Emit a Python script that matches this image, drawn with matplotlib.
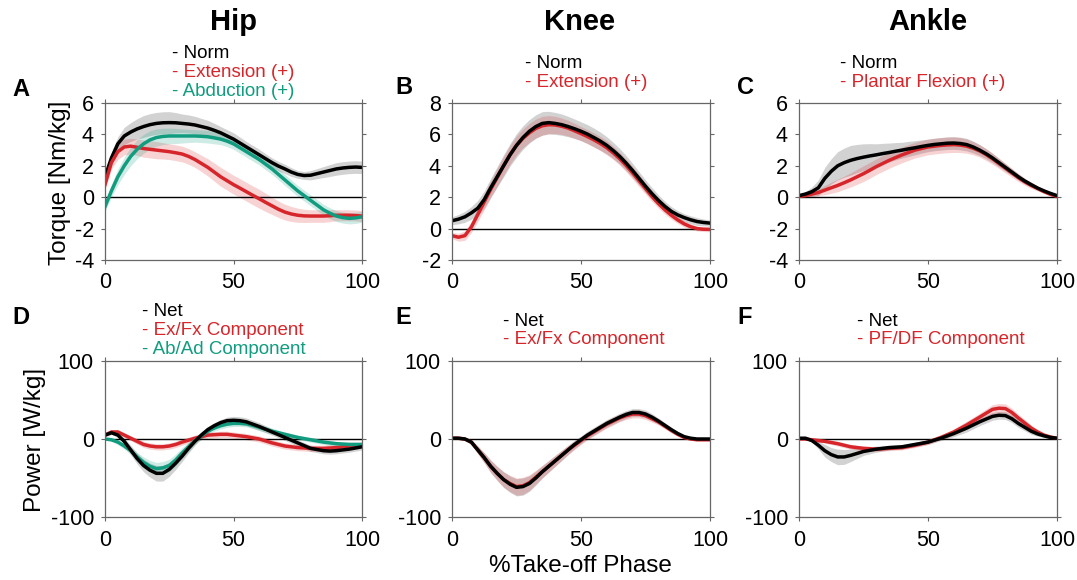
import numpy as np
import matplotlib.pyplot as plt

plt.rcParams['font.family'] = ['Liberation Sans', 'DejaVu Sans']

# % take-off phase, read every 2.5 %
pct = np.arange(0, 100.1, 2.5)

# A - hip torque [Nm/kg]
hip_t_norm = [1.3, 2.5, 3.4, 3.9, 4.15, 4.35, 4.5, 4.62, 4.7, 4.74, 4.75, 4.74, 4.7, 4.66, 4.6, 4.5, 4.4,
              4.26, 4.1, 3.9, 3.7, 3.45, 3.2, 2.95, 2.7, 2.45, 2.2, 1.98, 1.8, 1.6, 1.45, 1.38, 1.4,
              1.5, 1.6, 1.7, 1.8, 1.86, 1.9, 1.92, 1.9]
hip_t_norm_sd = [0.3, 0.35, 0.45, 0.55, 0.6, 0.65, 0.7, 0.7, 0.7, 0.7, 0.7, 0.65, 0.6, 0.58, 0.55, 0.52, 0.5,
                 0.45, 0.4, 0.4, 0.4, 0.38, 0.35, 0.35, 0.35, 0.32, 0.3, 0.3, 0.3, 0.28, 0.25, 0.25, 0.3,
                 0.32, 0.35, 0.38, 0.4, 0.4, 0.4, 0.4, 0.4]
hip_t_ext = [0.8, 2.2, 2.9, 3.2, 3.25, 3.18, 3.1, 3.05, 3.0, 2.95, 2.9, 2.83, 2.75, 2.6, 2.4, 2.15, 1.9,
             1.6, 1.3, 1.05, 0.8, 0.58, 0.35, 0.12, -0.1, -0.33, -0.55, -0.77, -0.95, -1.07, -1.15, -1.19, -1.2,
             -1.2, -1.2, -1.18, -1.15, -1.15, -1.15, -1.17, -1.2]
hip_t_ext_sd = [0.3, 0.4, 0.5, 0.5, 0.5, 0.52, 0.55, 0.55, 0.55, 0.52, 0.5, 0.5, 0.5, 0.5, 0.5, 0.52, 0.55,
                0.58, 0.6, 0.6, 0.6, 0.6, 0.6, 0.6, 0.6, 0.58, 0.55, 0.52, 0.5, 0.48, 0.45, 0.42, 0.4,
                0.4, 0.4, 0.38, 0.35, 0.35, 0.35, 0.35, 0.35]
hip_t_abd = [-0.6, 0.4, 1.3, 2.0, 2.6, 3.05, 3.4, 3.65, 3.8, 3.87, 3.9, 3.9, 3.9, 3.9, 3.9, 3.88, 3.85,
             3.78, 3.7, 3.57, 3.4, 3.15, 2.9, 2.65, 2.4, 2.1, 1.8, 1.45, 1.1, 0.75, 0.4, 0.1, -0.2,
             -0.5, -0.8, -1.02, -1.2, -1.3, -1.35, -1.32, -1.25]
hip_t_abd_sd = [0.3, 0.4, 0.5, 0.55, 0.6, 0.6, 0.6, 0.58, 0.55, 0.52, 0.5, 0.48, 0.45, 0.42, 0.4, 0.4, 0.4,
                0.38, 0.35, 0.35, 0.35, 0.35, 0.35, 0.35, 0.35, 0.35, 0.35, 0.35, 0.35, 0.35, 0.35, 0.35, 0.35,
                0.35, 0.35, 0.35, 0.35, 0.35, 0.35, 0.35, 0.35]

# B - knee torque [Nm/kg]
knee_t_norm = [0.5, 0.6, 0.75, 1.0, 1.3, 1.85, 2.6, 3.3, 4.0, 4.7, 5.3, 5.8, 6.2, 6.5, 6.7, 6.75, 6.7,
               6.62, 6.5, 6.36, 6.2, 6.02, 5.8, 5.57, 5.3, 4.97, 4.6, 4.17, 3.7, 3.2, 2.7, 2.23, 1.8,
               1.42, 1.1, 0.87, 0.7, 0.56, 0.45, 0.39, 0.35]
knee_t_norm_sd = [0.25, 0.3, 0.35, 0.4, 0.5, 0.55, 0.6, 0.65, 0.7, 0.72, 0.75, 0.75, 0.75, 0.75, 0.75, 0.72, 0.7,
                  0.68, 0.65, 0.62, 0.6, 0.6, 0.6, 0.58, 0.55, 0.52, 0.5, 0.48, 0.45, 0.42, 0.4, 0.38, 0.35,
                  0.32, 0.3, 0.28, 0.25, 0.25, 0.25, 0.22, 0.2]
knee_t_ext = [-0.45, -0.55, -0.45, 0.1, 0.9, 1.7, 2.5, 3.25, 4.0, 4.7, 5.3, 5.75, 6.1, 6.38, 6.55, 6.62, 6.6,
              6.52, 6.4, 6.23, 6.05, 5.86, 5.65, 5.42, 5.15, 4.82, 4.45, 4.02, 3.55, 3.05, 2.55, 2.05, 1.6,
              1.2, 0.85, 0.55, 0.3, 0.12, 0.0, -0.04, -0.05]
knee_t_ext_sd = [0.2, 0.25, 0.3, 0.35, 0.45, 0.5, 0.55, 0.58, 0.6, 0.6, 0.6, 0.6, 0.6, 0.6, 0.6, 0.58, 0.55,
                 0.52, 0.5, 0.48, 0.45, 0.45, 0.45, 0.45, 0.45, 0.42, 0.4, 0.4, 0.4, 0.38, 0.35, 0.32, 0.3,
                 0.28, 0.25, 0.22, 0.2, 0.18, 0.15, 0.15, 0.15]

# C - ankle torque [Nm/kg]
ankle_t_norm = [0.1, 0.2, 0.35, 0.6, 1.2, 1.65, 2.0, 2.2, 2.35, 2.46, 2.55, 2.63, 2.7, 2.78, 2.85, 2.93, 3.0,
                3.08, 3.15, 3.23, 3.3, 3.36, 3.4, 3.44, 3.45, 3.42, 3.35, 3.2, 3.0, 2.77, 2.5, 2.2, 1.9,
                1.6, 1.3, 1.03, 0.8, 0.58, 0.4, 0.24, 0.1]
ankle_t_norm_sd = [0.1, 0.15, 0.3, 0.5, 0.7, 0.8, 0.9, 0.93, 0.95, 0.9, 0.85, 0.78, 0.7, 0.65, 0.6, 0.55, 0.5,
                   0.48, 0.45, 0.42, 0.4, 0.4, 0.4, 0.4, 0.4, 0.4, 0.4, 0.38, 0.35, 0.32, 0.3, 0.28, 0.25,
                   0.22, 0.2, 0.18, 0.15, 0.12, 0.1, 0.08, 0.05]
ankle_t_pf = [0.05, 0.1, 0.2, 0.3, 0.45, 0.6, 0.75, 0.92, 1.1, 1.3, 1.5, 1.72, 1.95, 2.15, 2.35, 2.53, 2.7,
              2.85, 3.0, 3.1, 3.2, 3.25, 3.3, 3.33, 3.35, 3.32, 3.25, 3.12, 2.95, 2.72, 2.45, 2.15, 1.85,
              1.55, 1.25, 0.98, 0.75, 0.55, 0.35, 0.18, 0.05]
ankle_t_pf_sd = [0.05, 0.1, 0.15, 0.2, 0.3, 0.35, 0.4, 0.42, 0.45, 0.48, 0.5, 0.5, 0.5, 0.5, 0.5, 0.5, 0.5,
                 0.5, 0.5, 0.5, 0.5, 0.5, 0.5, 0.5, 0.5, 0.48, 0.45, 0.42, 0.4, 0.38, 0.35, 0.32, 0.3,
                 0.28, 0.25, 0.22, 0.2, 0.15, 0.1, 0.08, 0.05]

# D - hip power [W/kg]
hip_p_net = [5, 8, 5, -3, -14, -25, -34, -40, -44, -44, -39, -31, -22, -12, -3, 5, 12,
             17, 21, 23.5, 24, 23.5, 22, 19, 16, 12.5, 9, 5.5, 2, -1.5, -5, -8.5, -12,
             -13.5, -15, -15.5, -15, -14, -13, -11.5, -10]
hip_p_net_sd = [2, 2, 3, 4, 6, 7, 8, 9, 10, 10, 9, 8, 7, 6, 5, 4.5, 4,
                4, 4, 4.5, 5, 5, 5, 5, 5, 4.5, 4, 4, 4, 4, 4, 4, 4,
                4, 4, 4, 4, 4, 4, 4, 4]
hip_p_ex = [5, 9, 9, 5, 1, -3, -7, -9, -10, -10, -9, -7, -4, -1.5, 1, 3, 5,
            5.5, 6, 6, 5, 4, 3, 1.5, 0, -2.5, -5, -7, -9, -10, -11, -11.5, -12,
            -12, -12, -11.5, -11, -10, -9, -8.5, -8]
hip_p_ex_sd = [2, 3, 3, 3, 3, 3.5, 4, 4, 4, 4, 4, 4, 4, 4, 4, 4, 4,
               4, 4, 4, 4, 4, 4, 4, 4, 4, 4, 4, 4, 4, 4, 4, 4,
               4, 4, 4, 4, 4, 4, 4, 4]
hip_p_ab = [0, -1, -4, -9, -15, -23, -30, -35, -38, -37, -34, -27, -18, -10, -2, 4, 10,
            14, 17, 19, 20, 20, 19.5, 17.5, 15, 12.5, 10, 8, 6, 4, 2, 0.5, -1,
            -2.5, -4, -5, -6, -6.5, -7, -7, -7]
hip_p_ab_sd = [1, 2, 3, 4, 5, 6, 7, 7.5, 8, 8, 8, 7.5, 7, 6, 5, 4.5, 4,
               4, 4, 4, 4, 4, 4, 4, 4, 4, 4, 3.5, 3, 3, 3, 3, 3,
               3, 3, 3, 3, 3, 3, 3, 3]

# E - knee power [W/kg]
knee_p_net = [1, 1, 0, -4, -14, -24, -35, -44, -52, -58, -62, -61, -57, -50, -42, -35, -28,
              -21, -14, -7, -1, 5, 10, 15, 20, 24, 28, 31.5, 34, 34, 32, 28, 23,
              17.5, 12, 7, 3, 1, 0, 0, 0]
knee_p_net_sd = [1, 1, 2, 3, 5, 6.5, 8, 9, 10, 10.5, 11, 11, 10, 9, 8, 7.5, 7,
                 6.5, 6, 5.5, 5, 5, 5, 5, 5, 5, 5, 5, 5, 5, 5, 4.5, 4,
                 3.5, 3, 2.5, 2, 1.5, 1, 1, 1]
knee_p_ex = [1, 1, 0, -4, -14, -24, -35, -44, -52, -57, -61, -60, -56, -49, -42, -35, -28,
             -21, -14, -8, -2, 4, 9, 14, 19, 23, 27, 30, 32, 32, 30, 26, 22,
             16.5, 11, 6, 2, 0, -1, -1, -1]
knee_p_ex_sd = [1, 1, 2, 3, 5, 6.5, 8, 9, 10, 10.5, 11, 11, 10, 9, 8, 7.5, 7,
                6.5, 6, 5.5, 5, 5, 5, 5, 5, 5, 5, 5, 5, 5, 5, 4.5, 4,
                3.5, 3, 2.5, 2, 1.5, 1, 1, 1]

# F - ankle power [W/kg]
ankle_p_net = [1, 1, -2, -8, -15, -20, -23, -23, -21, -18.5, -16, -14.5, -13, -12, -11, -10.5, -10,
               -8.5, -7, -5.5, -4, -1.5, 1, 4, 7, 10.5, 14, 18, 22, 25.5, 29, 30.5, 30,
               26, 20, 15, 10, 6.5, 4, 2, 1]
ankle_p_net_sd = [1, 1, 2, 5, 8, 9, 10, 9.5, 8, 6.5, 5, 4.5, 4, 3.5, 3, 3, 3,
                  3, 3, 3, 3, 3, 3, 3.5, 4, 4.5, 5, 5, 5, 5, 5, 5, 5,
                  5, 5, 4.5, 4, 3, 2, 1.5, 1]
ankle_p_pf = [0, 0, -1, -2, -3, -4.5, -6, -8, -10, -11, -12, -12.5, -13, -12.5, -12, -11.5, -11,
              -9.5, -8, -6, -4, -1, 2, 5.5, 9, 13.5, 18, 23, 28, 33, 38, 39.5, 39,
              34, 27, 20.5, 14, 9, 5, 2.5, 1]
ankle_p_pf_sd = [0, 1, 1, 2, 2, 2.5, 3, 3, 3, 3, 3, 3, 3, 3, 3, 3, 3,
                 3, 3, 3, 3, 3, 3, 3.5, 4, 4.5, 5, 5, 5, 5.5, 6, 6, 6,
                 5.5, 5, 4.5, 4, 3, 2, 1.5, 1]

BLACK = '#000000'
RED = '#d7262b'
GREEN = '#119c7f'

fig = plt.figure(figsize=(10.77, 5.8), dpi=100)
W, H = 1077, 580


def make_ax(left, right, top, bottom):
    return fig.add_axes([left / W, 1 - bottom / H, (right - left) / W, (bottom - top) / H])


def band(ax, mean, sd, color, alpha):
    m = np.array(mean, dtype=float)
    s = np.array(sd, dtype=float)
    ax.fill_between(pct, m - s, m + s, color=color, alpha=alpha, lw=0)


def style(ax, ylim, yticks):
    ax.set_xlim(0, 100)
    ax.set_ylim(*ylim)
    ax.set_xticks([0, 50, 100])
    ax.set_yticks(yticks)
    ax.set_yticklabels([str(t) for t in yticks])
    ax.axhline(0, color='black', lw=1.0, zorder=1)
    for sp in ax.spines.values():
        sp.set_color('#666666')
        sp.set_linewidth(0.9)
    ax.tick_params(direction='out', length=3, width=0.8, color='#666666',
                   labelsize=15.5, top=True, right=True)
    ax.tick_params(axis='x', pad=6)
    ax.tick_params(axis='y', pad=5)


def legend(x, y, items):
    for i, (txt, col) in enumerate(items):
        fig.text(x / W, 1 - (y + i * 18.5) / H, '- ' + txt, color=col,
                 fontsize=13.5, va='center', ha='left')


cols = [(105, 362), (452, 710), (799, 1057)]
top_row = (103, 260)
bot_row = (361, 517)

# ---- torque row
axA = make_ax(cols[0][0], cols[0][1], *top_row)
band(axA, hip_t_norm, hip_t_norm_sd, 'gray', 0.35)
band(axA, hip_t_ext, hip_t_ext_sd, RED, 0.2)
band(axA, hip_t_abd, hip_t_abd_sd, GREEN, 0.2)
axA.plot(pct, hip_t_norm, color=BLACK, lw=2.5)
axA.plot(pct, hip_t_ext, color=RED, lw=2.5)
axA.plot(pct, hip_t_abd, color=GREEN, lw=2.5)
style(axA, (-4, 6), [-4, -2, 0, 2, 4, 6])

axB = make_ax(cols[1][0], cols[1][1], *top_row)
band(axB, knee_t_norm, knee_t_norm_sd, 'gray', 0.35)
band(axB, knee_t_ext, knee_t_ext_sd, RED, 0.2)
axB.plot(pct, knee_t_ext, color=RED, lw=2.5)
axB.plot(pct, knee_t_norm, color=BLACK, lw=2.5)
style(axB, (-2, 8), [-2, 0, 2, 4, 6, 8])

axC = make_ax(cols[2][0], cols[2][1], *top_row)
band(axC, ankle_t_norm, ankle_t_norm_sd, 'gray', 0.35)
band(axC, ankle_t_pf, ankle_t_pf_sd, RED, 0.2)
axC.plot(pct, ankle_t_pf, color=RED, lw=2.5)
axC.plot(pct, ankle_t_norm, color=BLACK, lw=2.5)
style(axC, (-4, 6), [-4, -2, 0, 2, 4, 6])

# ---- power row
axD = make_ax(cols[0][0], cols[0][1], *bot_row)
band(axD, hip_p_net, hip_p_net_sd, 'gray', 0.35)
band(axD, hip_p_ex, hip_p_ex_sd, RED, 0.2)
band(axD, hip_p_ab, hip_p_ab_sd, GREEN, 0.2)
axD.plot(pct, hip_p_ex, color=RED, lw=2.5)
axD.plot(pct, hip_p_ab, color=GREEN, lw=2.5)
axD.plot(pct, hip_p_net, color=BLACK, lw=2.5)
style(axD, (-100, 100), [-100, 0, 100])

axE = make_ax(cols[1][0], cols[1][1], *bot_row)
band(axE, knee_p_net, knee_p_net_sd, 'gray', 0.35)
band(axE, knee_p_ex, knee_p_ex_sd, RED, 0.2)
axE.plot(pct, knee_p_ex, color=RED, lw=2.5)
axE.plot(pct, knee_p_net, color=BLACK, lw=2.5)
style(axE, (-100, 100), [-100, 0, 100])

axF = make_ax(cols[2][0], cols[2][1], *bot_row)
band(axF, ankle_p_net, ankle_p_net_sd, 'gray', 0.35)
band(axF, ankle_p_pf, ankle_p_pf_sd, RED, 0.2)
axF.plot(pct, ankle_p_pf, color=RED, lw=2.5)
axF.plot(pct, ankle_p_net, color=BLACK, lw=2.5)
style(axF, (-100, 100), [-100, 0, 100])

# column titles
for name, xc in [('Hip', 233), ('Knee', 580), ('Ankle', 928)]:
    fig.text(xc / W, 1 - 22 / H, name, fontsize=21, fontweight='bold', ha='center', va='center')

# panel letters
for letter, x, y in [('A', 12, 89), ('B', 395, 88), ('C', 737, 88),
                     ('D', 12, 318), ('E', 395, 318), ('F', 737, 318)]:
    fig.text(x / W, 1 - y / H, letter, fontsize=17, fontweight='bold', ha='left', va='center')

# legends
legend(172, 54, [('Norm', BLACK), ('Extension (+)', RED), ('Abduction (+)', GREEN)])
legend(525, 64, [('Norm', BLACK), ('Extension (+)', RED)])
legend(840, 64, [('Norm', BLACK), ('Plantar Flexion (+)', RED)])
legend(142, 312, [('Net', BLACK), ('Ex/Fx Component', RED), ('Ab/Ad Component', GREEN)])
legend(503, 321, [('Net', BLACK), ('Ex/Fx Component', RED)])
legend(857, 321, [('Net', BLACK), ('PF/DF Component', RED)])

# axis labels
fig.text(60 / W, 1 - 183 / H, 'Torque [Nm/kg]', fontsize=17.5, rotation=90, ha='center', va='center')
fig.text(35 / W, 1 - 440 / H, 'Power [W/kg]', fontsize=17.5, rotation=90, ha='center', va='center')
fig.text(580 / W, 1 - 566 / H, '%Take-off Phase', fontsize=17.5, ha='center', va='center')

fig.savefig('out.png', dpi=100)
